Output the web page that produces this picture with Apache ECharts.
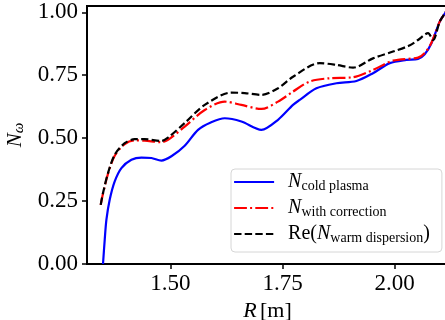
<!DOCTYPE html>
<html>
<head>
<meta charset="utf-8">
<script src="https://cdn.jsdelivr.net/npm/echarts@6/dist/echarts.min.js"></script>
<style>
html,body{margin:0;padding:0;background:#fff;}
#c{width:445px;height:320px;}
</style>
</head>
<body>
<div id="c"></div>
<script>
// Data: [R (m), N]
const coldPlasma = [
  [1.3497,0.000],[1.3535,0.096],[1.3573,0.176],[1.3646,0.255],[1.3758,0.328],
  [1.3907,0.381],[1.4130,0.414],[1.4353,0.423],[1.4576,0.421],[1.4799,0.411],
  [1.5022,0.428],[1.5319,0.470],[1.5616,0.533],[1.5900,0.562],[1.6211,0.579],
  [1.6583,0.566],[1.7029,0.533],[1.7400,0.573],[1.7734,0.632],[1.7884,0.652],
  [1.8256,0.698],[1.8702,0.718],[1.9148,0.727],[1.9518,0.758],[1.9891,0.798],
  [2.0263,0.811],[2.0522,0.815],[2.0671,0.833],[2.0821,0.877],[2.1006,0.963],
  [2.1118,0.995],[2.1190,1.015]
];
const withCorrection = [
  [1.3446,0.235],[1.3497,0.280],[1.3608,0.358],[1.3758,0.430],[1.3981,0.476],
  [1.4204,0.491],[1.4427,0.490],[1.4799,0.484],[1.4946,0.493],[1.5319,0.546],
  [1.5765,0.612],[1.6211,0.645],[1.6583,0.632],[1.7029,0.616],[1.7400,0.645],
  [1.7734,0.685],[1.8107,0.725],[1.8553,0.738],[1.9072,0.742],[1.9518,0.771],
  [1.9964,0.808],[2.0522,0.820],[2.0671,0.838],[2.0821,0.879],[2.1006,0.963],
  [2.1118,0.995],[2.1190,1.015]
];
const warmDispersion = [
  [1.3446,0.235],[1.3497,0.282],[1.3608,0.361],[1.3758,0.434],[1.3981,0.480],
  [1.4204,0.496],[1.4427,0.496],[1.4799,0.489],[1.4946,0.502],[1.5319,0.560],
  [1.5765,0.632],[1.6360,0.681],[1.6657,0.679],[1.7029,0.672],[1.7400,0.698],
  [1.7734,0.744],[1.8330,0.798],[1.8702,0.791],[1.9072,0.780],[1.9518,0.817],
  [1.9964,0.844],[2.0330,0.868],[2.0522,0.890],[2.0745,0.917],[2.0856,0.890],
  [2.1006,0.963],[2.1118,0.995],[2.1190,1.015]
];
const seriesNames = ['cold', 'corr', 'warm'];
const legendLabels = {
  cold: '{n0|N}{s|cold plasma}',
  corr: '{n0|N}{s|with correction}',
  warm: '{r0|Re(}{n|N}{s|warm dispersion}{r|)}'
};
const xTicks = [1.50, 1.75, 2.00];
const yTicks = [0.00, 0.25, 0.50, 0.75, 1.00];

const SERIF = '"Liberation Serif", "DejaVu Serif", serif';
const chart = echarts.init(document.getElementById('c'), null, {renderer: 'canvas'});
chart.setOption({
  animation: false,
  backgroundColor: '#ffffff',
  grid: {left: 87, right: -3, top: 6, bottom: 56, show: true, borderColor: '#000', borderWidth: 2,
    backgroundColor: 'transparent', containLabel: false, outerBoundsMode: 'none'},
  xAxis: {
    type: 'value', min: 1.314, max: 2.119,
    name: '{i|R} {u|[m]}', nameLocation: 'middle', nameGap: 35,
    nameTextStyle: {rich: {
      i: {fontFamily: SERIF, fontStyle: 'italic', fontSize: 22, color: '#000'},
      u: {fontFamily: SERIF, fontSize: 22, color: '#000'}
    }},
    axisLine: {show: true, onZero: false, lineStyle: {color: '#000', width: 2}},
    axisTick: {show: true, length: 5, customValues: xTicks, lineStyle: {color: '#000', width: 1.5}},
    axisLabel: {customValues: xTicks, margin: 8, fontFamily: SERIF, fontSize: 23, color: '#000',
      formatter: v => v.toFixed(2)},
    splitLine: {show: false}
  },
  yAxis: {
    type: 'value', min: 0, max: 1.025,
    name: '{n|N}{s|ω}', nameLocation: 'middle', nameGap: 59, nameRotate: 90,
    nameTextStyle: {rich: {
      n: {fontFamily: SERIF, fontStyle: 'italic', fontSize: 21, color: '#000', lineHeight: 22},
      s: {fontFamily: SERIF, fontStyle: 'italic', fontSize: 15, color: '#000', lineHeight: 14, verticalAlign: 'bottom'}
    }},
    axisLine: {show: true, onZero: false, lineStyle: {color: '#000', width: 2}},
    axisTick: {show: true, length: 5, customValues: yTicks, lineStyle: {color: '#000', width: 1.5}},
    axisLabel: {customValues: yTicks, margin: 9, fontFamily: SERIF, fontSize: 23, color: '#000',
      formatter: v => v.toFixed(2)},
    splitLine: {show: false}
  },
  legend: {
    orient: 'vertical', left: 231, top: 169,
    padding: [3, 12, 7, 2], itemGap: 5, itemWidth: 40, itemHeight: 22,
    backgroundColor: 'rgba(255,255,255,0.85)', borderColor: '#d6d6d6', borderWidth: 1, borderRadius: 4,
    itemStyle: {color: 'rgba(0,0,0,0)', borderColor: 'rgba(0,0,0,0)', borderWidth: 0, opacity: 0},
    lineStyle: {width: 2.2},
    data: seriesNames,
    formatter: name => legendLabels[name],
    textStyle: {rich: {
      n0: {fontFamily: SERIF, fontStyle: 'italic', fontSize: 20, color: '#000', lineHeight: 22, padding: [0,0,0,9]},
      n: {fontFamily: SERIF, fontStyle: 'italic', fontSize: 20, color: '#000', lineHeight: 22},
      r0: {fontFamily: SERIF, fontSize: 20, color: '#000', lineHeight: 22, padding: [0,0,0,9]},
      r: {fontFamily: SERIF, fontSize: 20, color: '#000', lineHeight: 22},
      s: {fontFamily: SERIF, fontSize: 14, color: '#000', lineHeight: 14, verticalAlign: 'bottom'}
    }}
  },
  series: [
    {name: 'cold', type: 'line', data: coldPlasma, symbol: 'none', smooth: 0.3,
      lineStyle: {color: '#0000ff', width: 2.2}, itemStyle: {color: '#0000ff'}, z: 2},
    {name: 'corr', type: 'line', data: withCorrection, symbol: 'none', smooth: 0.3,
      lineStyle: {color: '#ff0000', width: 2.2, type: [12.8, 3.2, 2, 3.2]}, itemStyle: {color: '#ff0000'}, z: 3},
    {name: 'warm', type: 'line', data: warmDispersion, symbol: 'none', smooth: 0.3,
      lineStyle: {color: '#000000', width: 2.2, type: [7.4, 3.2]}, itemStyle: {color: '#000000'}, z: 4}
  ]
});
</script>
</body>
</html>
